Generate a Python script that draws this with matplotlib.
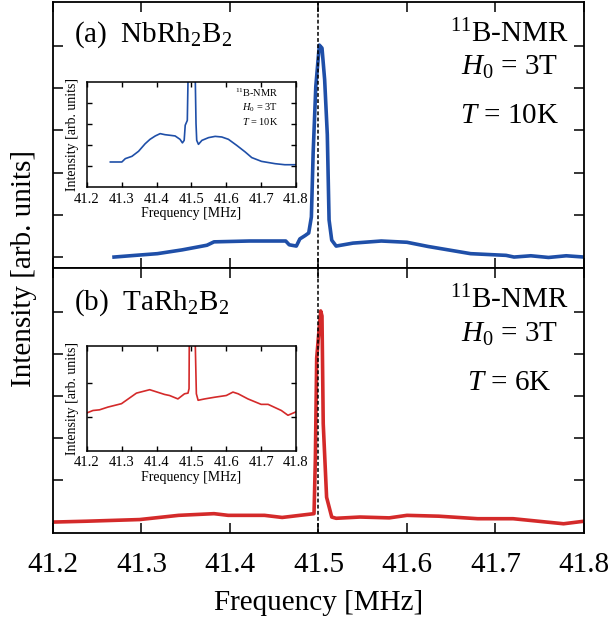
import numpy as np
import matplotlib.pyplot as plt

plt.rcParams['font.family'] = 'Liberation Serif'
plt.rcParams['mathtext.fontset'] = 'custom'
plt.rcParams['mathtext.rm'] = 'Liberation Serif'
plt.rcParams['mathtext.it'] = 'Liberation Serif:italic'

# (a) NbRh2B2, main spectrum
nb_freq = [41.269, 41.293, 41.318, 41.346, 41.374, 41.382, 41.422, 41.463, 41.467,
           41.475, 41.479, 41.485, 41.489, 41.492, 41.494, 41.497, 41.501, 41.504,
           41.507, 41.510, 41.512, 41.515, 41.520, 41.539, 41.571, 41.600, 41.624,
           41.672, 41.712, 41.721, 41.740, 41.760, 41.780, 41.800]
nb_int = [0.00, 0.04, 0.08, 0.17, 0.28, 0.36, 0.38, 0.38, 0.29,
          0.26, 0.43, 0.51, 0.57, 0.95, 2.46, 4.04, 5.02, 4.95,
          4.20, 2.90, 0.88, 0.40, 0.26, 0.33, 0.38, 0.35, 0.25,
          0.08, 0.04, 0.00, 0.03, -0.01, 0.03, 0.00]

# (b) TaRh2B2, main spectrum
ta_freq = [41.200, 41.237, 41.298, 41.342, 41.382, 41.398, 41.439, 41.459, 41.487,
           41.495, 41.4965, 41.498, 41.5025, 41.504, 41.5054, 41.5092, 41.515, 41.520,
           41.547, 41.580, 41.600, 41.636, 41.680, 41.720, 41.777, 41.800]
ta_int = [0.00, 0.02, 0.06, 0.16, 0.20, 0.16, 0.16, 0.11, 0.18,
          0.20, 1.50, 3.90, 5.02, 4.90, 2.34, 0.59, 0.12, 0.09,
          0.12, 0.10, 0.16, 0.14, 0.08, 0.08, -0.04, 0.02]

# insets
nb_in_freq = [41.267, 41.300, 41.310, 41.329, 41.348, 41.367, 41.381, 41.396, 41.410,
              41.424, 41.439, 41.453, 41.467, 41.474, 41.479, 41.482, 41.488, 41.491,
              41.500, 41.510, 41.513, 41.515, 41.520, 41.530, 41.549, 41.568, 41.587,
              41.606, 41.630, 41.654, 41.673, 41.701, 41.740, 41.768, 41.800]
nb_in_int = [1.19, 1.19, 1.35, 1.46, 1.70, 2.06, 2.27, 2.43, 2.54,
             2.49, 2.46, 2.43, 2.27, 2.10, 2.22, 2.94, 3.17, 6.0,
             30.0, 6.0, 3.02, 2.22, 2.03, 2.22, 2.35, 2.41, 2.38,
             2.27, 1.98, 1.67, 1.40, 1.22, 1.11, 1.06, 1.06]

ta_in_freq = [41.200, 41.217, 41.236, 41.260, 41.299, 41.342, 41.380, 41.423, 41.437,
              41.461, 41.480, 41.490, 41.493, 41.494, 41.500, 41.509, 41.514, 41.519,
              41.538, 41.567, 41.600, 41.619, 41.634, 41.662, 41.700, 41.720, 41.758,
              41.777, 41.800]
ta_in_int = [1.11, 1.18, 1.20, 1.28, 1.38, 1.69, 1.79, 1.65, 1.62,
             1.52, 1.67, 1.69, 1.82, 4.0, 20.0, 4.0, 1.67, 1.48,
             1.52, 1.57, 1.62, 1.72, 1.67, 1.52, 1.36, 1.36, 1.18,
             1.04, 1.14]

xticks = [41.2, 41.3, 41.4, 41.5, 41.6, 41.7, 41.8]

blue = '#1f4fa8'
red = '#d42a2a'

fig = plt.figure(figsize=(6.11, 6.20), dpi=100)
ax1 = fig.add_axes([0.0867, 0.5677, 0.869, 0.429])
ax2 = fig.add_axes([0.0867, 0.1403, 0.869, 0.4274])

for ax in (ax1, ax2):
    ax.set_xlim(41.2, 41.8)
    ax.set_ylim(-0.26, 6.04)
    ax.set_xticks(xticks)
    ax.set_yticks([0, 1, 2, 3, 4, 5])
    ax.set_yticklabels([])
    ax.tick_params(direction='in', length=7, width=1.1, top=True, right=True,
                   labelsize=21, pad=14)
    for s in ax.spines.values():
        s.set_linewidth(1.3)
    ax.axvline(41.5, color='black', ls=(0, (2.5, 1.5)), lw=1.1, zorder=5)

ax1.set_xticklabels([])
ax1.plot(nb_freq, nb_int, color=blue, lw=2.6, solid_joinstyle='round')
ax2.plot(ta_freq, ta_int, color=red, lw=2.6, solid_joinstyle='round')
ax2.set_xlabel('Frequency [MHz]', fontsize=21, labelpad=8)
fig.text(0.04, 0.567, 'Intensity [arb. units]', rotation=90, fontsize=21,
         ha='center', va='center')

ax1.text(0.04, 0.85, '(a)  NbRh$_2$B$_2$', transform=ax1.transAxes, fontsize=21,
         va='baseline')
ax2.text(0.04, 0.842, '(b)  TaRh$_2$B$_2$', transform=ax2.transAxes, fontsize=21,
         va='baseline')

for ax, lines, ys in ((ax1, ['$^{11}$B-NMR', '$H_0$ = 3T', '$T$ = 10K'], [0.85, 0.726, 0.545]),
                      (ax2, ['$^{11}$B-NMR', '$H_0$ = 3T', '$T$ = 6K'], [0.849, 0.72, 0.54])):
    for s, y in zip(lines, ys):
        ax.text(0.86, y, s, transform=ax.transAxes, fontsize=21,
                ha='center', va='baseline')

# insets
in1 = fig.add_axes([0.1424, 0.6984, 0.342, 0.1694])
in2 = fig.add_axes([0.1424, 0.2730, 0.342, 0.1694])
in1.plot(nb_in_freq, nb_in_int, color=blue, lw=1.2)
in2.plot(ta_in_freq, ta_in_int, color=red, lw=1.2)
in1.set_ylim(0, 5)
in1.set_yticks([1, 2, 3, 4])
in2.set_ylim(0, 3.08)
in2.set_yticks([1, 2])
for ax in (in1, in2):
    ax.set_xlim(41.2, 41.8)
    ax.set_xticks(xticks)
    ax.set_yticklabels([])
    ax.tick_params(direction='in', length=3.5, width=1.0, top=True, right=True,
                   labelsize=10.5, pad=4)
    for s in ax.spines.values():
        s.set_linewidth(1.1)
    ax.set_xlabel('Frequency [MHz]', fontsize=10, labelpad=1)
    ax.set_ylabel('Intensity [arb. units]', fontsize=10, labelpad=2)

for k, s in enumerate(['$^{11}$B-NMR', '$H_0$ = 3T', '$T$ = 10K']):
    in1.text(0.915, 0.86 - k * 0.135, s, transform=in1.transAxes, fontsize=7.5,
             ha='right')

fig.savefig('out.png', dpi=100)
